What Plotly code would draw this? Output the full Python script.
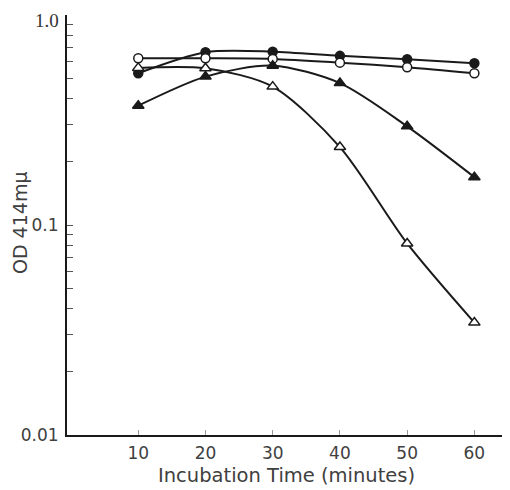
import plotly.graph_objects as go

time_min = [10, 20, 30, 40, 50, 60]

filled_circle = [0.528, 0.665, 0.669, 0.639, 0.616, 0.589]
open_circle = [0.622, 0.622, 0.618, 0.593, 0.564, 0.528]
filled_triangle = [0.370, 0.509, 0.574, 0.474, 0.295, 0.169]
open_triangle = [0.560, 0.558, 0.456, 0.235, 0.0817, 0.0343]

y_major = [0.01, 0.1, 1.0]
y_major_text = ["0.01", "0.1", "1.0"]
x_ticks = [10, 20, 30, 40, 50, 60]

font_family = "DejaVu Sans"
ink = "#1a1a1a"
# page body adds an 8px offset, so the figure is 8px smaller than the window
OFF = 8
W, H = 510 - OFF, 490 - OFF
ML, MR, MT, MB = 67 - OFF, 0, 15 - OFF, 490 - 435
PW, PH = W - ML - MR, H - MT - MB

series = [
    (filled_circle, "circle", ink),
    (open_circle, "circle-open", "white"),
    (filled_triangle, "triangle-up", ink),
    (open_triangle, "triangle-up-open", "white"),
]

fig = go.Figure()
for ys, sym, fill in series:
    fig.add_trace(go.Scatter(
        x=time_min, y=ys, mode="lines",
        line=dict(color=ink, width=2, shape="spline", smoothing=0.8),
        showlegend=False, hoverinfo="skip"))
for ys, sym, fill in series:
    base = sym.replace("-open", "")
    fig.add_trace(go.Scatter(
        x=time_min, y=ys, mode="markers",
        marker=dict(symbol=base, size=9 if "circle" in sym else 10,
                    color=fill, line=dict(color=ink, width=1.5)),
        showlegend=False))

# y ticks: majors labelled (1.0 drawn separately in serif), minors unlabelled
tickvals = []
ticktext = []
for dec in [0.01, 0.1]:
    for m in range(1, 10):
        v = round(dec * m, 4)
        tickvals.append(v)
        ticktext.append(y_major_text[y_major.index(v)] if v in y_major else "")
tickvals.append(1.0)
ticktext.append("")

def px_to_paper_x(px):
    return (px - OFF - ML) / PW

def px_to_paper_y(py):
    return (H - MB - (py - OFF)) / PH

fig.add_annotation(text=y_major_text[2], xref="paper", yref="paper",
                   x=px_to_paper_x(47), y=px_to_paper_y(21),
                   xanchor="center", yanchor="middle", showarrow=False,
                   font=dict(family="Liberation Serif", size=19, color="#333333"))
fig.add_annotation(text="Incubation Time (minutes)", xref="paper", yref="paper",
                   x=px_to_paper_x(286), y=px_to_paper_y(475),
                   xanchor="center", yanchor="middle", showarrow=False,
                   font=dict(size=19.5))
fig.add_annotation(text="OD 414mμ", xref="paper", yref="paper",
                   x=px_to_paper_x(20), y=px_to_paper_y(223), textangle=-90,
                   xanchor="center", yanchor="middle", showarrow=False,
                   font=dict(size=19))

fig.update_layout(
    width=W, height=H,
    margin=dict(l=ML, r=MR, t=MT, b=MB),
    paper_bgcolor="white", plot_bgcolor="white",
    font=dict(family=font_family, color="#404040", size=17),
    xaxis=dict(
        range=[-0.6, 65.3], tickvals=x_ticks,
        ticks="inside", ticklen=5, tickcolor="#999999", tickwidth=1,
        showline=True, linecolor=ink, linewidth=2,
        showgrid=False, zeroline=False,
        tickfont=dict(size=17), ticklabelstandoff=2,
    ),
    yaxis=dict(
        type="log", range=[-2, 0],
        tickvals=tickvals, ticktext=ticktext,
        ticks="inside", ticklen=6, tickcolor="#555555", tickwidth=1,
        showline=True, linecolor=ink, linewidth=2,
        showgrid=False, zeroline=False,
        tickfont=dict(size=17), ticklabelstandoff=3,
    ),
)

fig.write_html("out.html")
